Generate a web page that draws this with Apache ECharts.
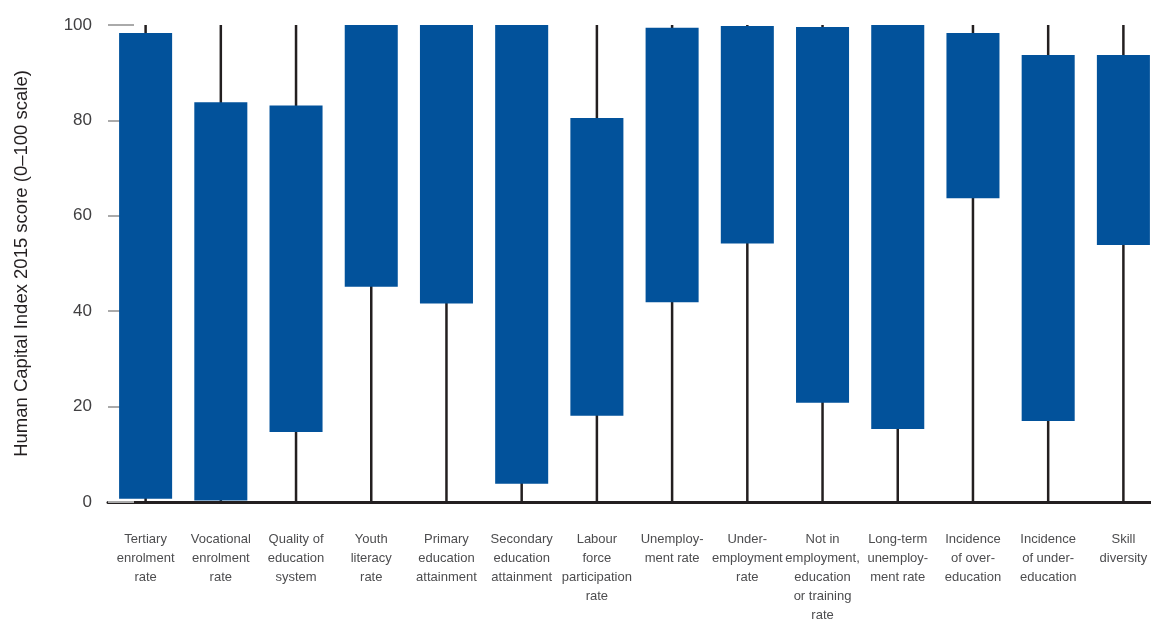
<!DOCTYPE html>
<html>
<head>
<meta charset="utf-8">
<script src="https://cdn.jsdelivr.net/npm/echarts@6/dist/echarts.min.js"></script>
<style>html,body{margin:0;padding:0;background:#fff}#c{width:1151px;height:619px}</style>
</head>
<body>
<div id="c"></div>
<script>
const categories = [
  "Tertiary\nenrolment\nrate",
  "Vocational\nenrolment\nrate",
  "Quality of\neducation\nsystem",
  "Youth\nliteracy\nrate",
  "Primary\neducation\nattainment",
  "Secondary\neducation\nattainment",
  "Labour\nforce\nparticipation\nrate",
  "Unemploy-\nment rate",
  "Under-\nemployment\nrate",
  "Not in\nemployment,\neducation\nor training\nrate",
  "Long-term\nunemploy-\nment rate",
  "Incidence\nof over-\neducation",
  "Incidence\nof under-\neducation",
  "Skill\ndiversity"
];
const boxLow  = [0.7, 0.3, 14.7, 45.1, 41.6, 3.8, 18.1, 41.9, 54.2, 20.8, 15.3, 63.7, 17.0, 53.9];
const boxHigh = [98.3, 83.8, 83.1, 100, 100, 100, 80.5, 99.4, 99.8, 99.6, 100, 98.3, 93.7, 93.7];
const rangeMin = [0, 0, 0, 0, 0, 0, 0, 0, 0, 0, 0, 0, 0, 0];
const rangeMax = [100, 100, 100, 100, 100, 100, 100, 100, 100, 100, 100, 100, 100, 100];
const yTicks = [0, 20, 40, 60, 80, 100];

const data = categories.map((c, i) => [i, rangeMin[i], rangeMax[i], boxLow[i], boxHigh[i]]);

const chart = echarts.init(document.getElementById('c'), null, {renderer: 'canvas'});
const FONT = '"Liberation Sans", Arial, sans-serif';
chart.setOption({
  animation: false,
  grid: {left: 108, right: -10, top: 25, bottom: 117, containLabel: false, outerBoundsMode: 'none'},
  xAxis: {
    type: 'category',
    data: categories,
    axisLine: {show: true, lineStyle: {color: '#231f20', width: 3}},
    axisTick: {show: false},
    axisLabel: {
      interval: 0, margin: 28, fontFamily: FONT, fontSize: 13, lineHeight: 19,
      color: '#4d4d4f', verticalAlign: 'top', hideOverlap: false
    }
  },
  yAxis: {
    type: 'value', min: yTicks[0], max: yTicks[yTicks.length - 1], interval: 20,
    name: 'Human Capital Index 2015 score (0–100 scale)',
    nameLocation: 'middle', nameGap: 77, nameRotate: 90,
    nameTextStyle: {fontFamily: FONT, fontSize: 18.5, color: '#231f20'},
    axisLine: {show: false},
    axisTick: {show: true, inside: true, length: 26, lineStyle: {color: '#aaaaaa', width: 2}},
    splitLine: {show: false},
    axisLabel: {margin: 16, fontFamily: FONT, fontSize: 17, color: '#414042'}
  },
  series: [{
    type: 'custom',
    data: data,
    encode: {x: 0, y: [1, 2, 3, 4]},
    renderItem: function (params, api) {
      const x = api.value(0);
      const pMin = api.coord([x, api.value(1)]);
      const pMax = api.coord([x, api.value(2)]);
      const pLow = api.coord([x, api.value(3)]);
      const pHigh = api.coord([x, api.value(4)]);
      const band = api.size([1, 0])[0];
      const w = band * 0.705;
      return {
        type: 'group',
        children: [
          {type: 'line', shape: {x1: pMin[0], y1: pMin[1], x2: pMax[0], y2: pMax[1]},
           style: {stroke: '#231f20', lineWidth: 2.5}},
          {type: 'rect', shape: {x: pLow[0] - w / 2, y: pHigh[1], width: w, height: pLow[1] - pHigh[1]},
           style: {fill: '#02529b'}}
        ]
      };
    }
  }]
});
</script>
</body>
</html>
